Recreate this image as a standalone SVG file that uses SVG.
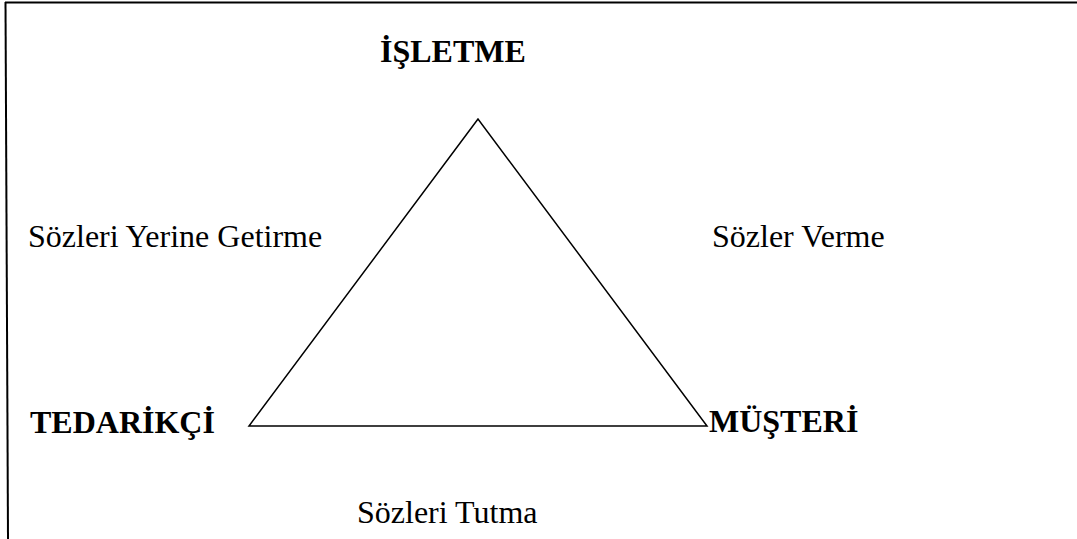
<svg xmlns="http://www.w3.org/2000/svg" width="1077" height="539" viewBox="0 0 1077 539">
  <style>
    .frame { stroke: #000; stroke-width: 2; fill: none; }
    .edge { stroke: #000; stroke-width: 1.5; fill: none; stroke-linejoin: miter; }
    .node { font-family: "Liberation Serif", "Times New Roman", serif; font-size: 32px; font-weight: bold; fill: #000; }
    .label { font-family: "Liberation Serif", "Times New Roman", serif; font-size: 32px; fill: #000; }
  </style>
  <rect width="1077" height="539" fill="#fff"/>
  <!-- frame: top and left rules -->
  <g id="frame">
    <line class="frame" x1="5" y1="2.5" x2="1077" y2="2.5"/>
    <line class="frame" x1="5.5" y1="2" x2="8" y2="539"/>
  </g>
  <!-- triangle connecting the three parties -->
  <g id="connectors">
    <polygon class="edge" points="478,119 249,426 707,426"/>
  </g>
  <g id="isletme">
    <text class="node" x="380" y="62">İŞLETME</text>
  </g>
  <g id="tedarikci">
    <text class="node" x="30" y="433">TEDARİKÇİ</text>
  </g>
  <g id="musteri">
    <text class="node" x="709" y="432">MÜŞTERİ</text>
  </g>
  <g id="labels">
    <text class="label" x="28" y="247">Sözleri Yerine Getirme</text>
    <text class="label" x="712" y="247">Sözler Verme</text>
    <text class="label" x="357" y="523">Sözleri Tutma</text>
  </g>
</svg>
